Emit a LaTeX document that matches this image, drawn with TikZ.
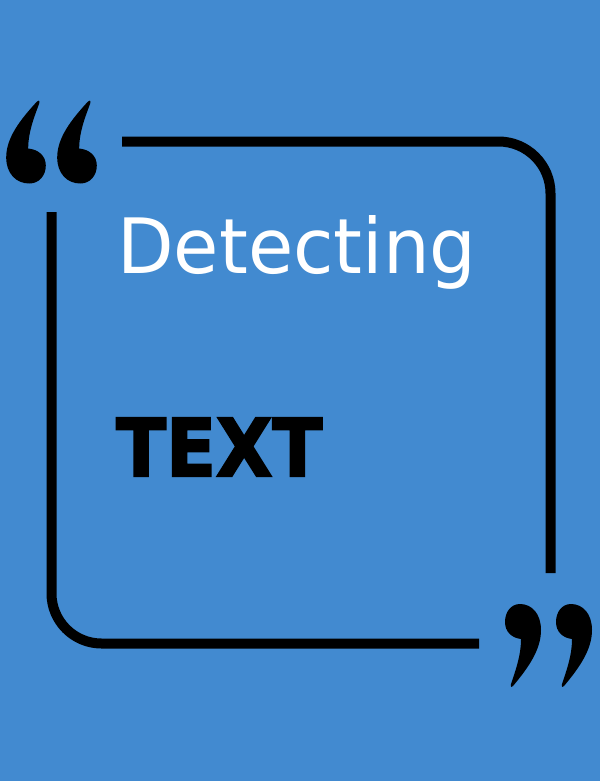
\documentclass[tikz,border=0pt]{standalone}
\usepackage{fontspec}
\usepackage{graphicx}
\newfontfamily\thinfont{DejaVu Sans Condensed}
\newfontfamily\heavyfont{DejaVu Sans}[FakeBold=2.5]
\definecolor{bgblue}{HTML}{428AD0}
\tikzset{
  frameline/.style={draw=black, line width=10pt, line cap=butt},
  quotemark/.style={fill=black, draw=none}
}
\newcommand{\commashape}{%
  (-10,41) .. controls (5,23) and (18,5) .. (18,-15)
  .. controls (18,-31) and (9,-41) .. (-3,-41)
  .. controls (-12,-41) and (-18,-33) .. (-18,-23)
  .. controls (-18,-13) and (-11,-7) .. (-2,-6)
  .. controls (-2,11) and (-8,27) .. (-12,39)
  .. controls (-13,42) and (-11,43) .. (-10,41) -- cycle}
\begin{document}
\begin{tikzpicture}[x=1pt,y=-1pt]
  \fill[bgblue] (0,0) rectangle (600,781);
  \useasboundingbox (0,0) rectangle (600,781);
  % frame
  \coordinate (ta) at (122,141.5);
  \coordinate (tb) at (550.5,141.5);
  \coordinate (tc) at (550.5,573);
  \coordinate (la) at (51.5,212);
  \coordinate (lb) at (51.5,643.5);
  \coordinate (lc) at (479,643.5);
  \draw[frameline, rounded corners=52pt] (ta) -- (tb) -- (tc);
  \draw[frameline, rounded corners=50pt] (la) -- (lb) -- (lc);
  % open quote
  \begin{scope}[shift={(26,142.5)}, rotate=180, xscale=1.1]
    \fill[quotemark] \commashape;
  \end{scope}
  \begin{scope}[shift={(77,142.5)}, rotate=180, xscale=1.1]
    \fill[quotemark] \commashape;
  \end{scope}
  % close quote
  \begin{scope}[shift={(523,645)}]
    \fill[quotemark] \commashape;
  \end{scope}
  \begin{scope}[shift={(574,645)}]
    \fill[quotemark] \commashape;
  \end{scope}
  % texts
  \node[anchor=base west, inner sep=0pt, text=white] (title) at (117,273)
    {\resizebox{359pt}{58pt}{\thinfont Detecting}};
  \node[anchor=base west, inner sep=0pt, text=black] (word) at (116,476)
    {\resizebox{206pt}{58pt}{\heavyfont\bfseries TEXT}};
\end{tikzpicture}
\end{document}
